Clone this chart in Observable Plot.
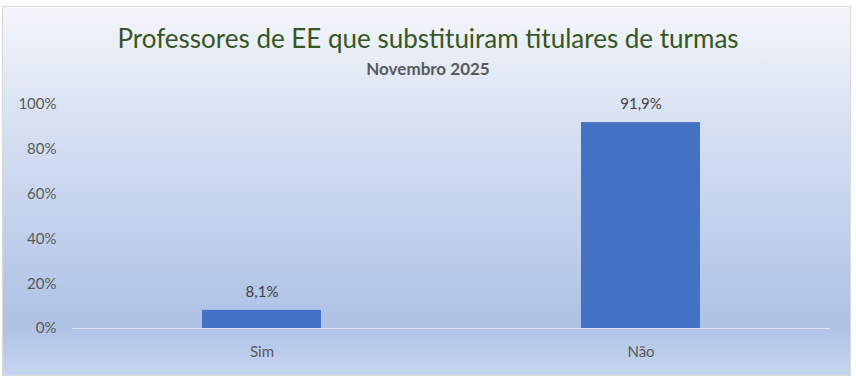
<!DOCTYPE html>
<html>
<head>
<meta charset="utf-8">
<script src="https://cdn.jsdelivr.net/npm/d3@7"></script>
<script src="https://cdn.jsdelivr.net/npm/@observablehq/plot@0.6"></script>
<style>
  html, body { margin: 0; padding: 0; background: #ffffff; }
  body { width: 856px; height: 378px; position: relative; overflow: hidden; font-family: Lato, "Open Sans", sans-serif; }
  #panel {
    position: absolute; left: 2px; top: 6px; width: 847px; height: 368px;
    border: 1px solid #d9d9d9;
    background: linear-gradient(to bottom, #f4f6fb 0%, #dce4f4 26%, #aec2e6 86%, #c6d4ef 100%);
  }
  #title {
    position: absolute; left: 0; top: 22px; width: 856px; text-align: center;
    font-size: 26px; color: #375623; font-weight: 400; line-height: 32px;
  }
  #subtitle {
    position: absolute; left: 0; top: 58px; width: 856px; text-align: center;
    font-size: 17px; color: #595959; font-weight: 700; line-height: 22px;
  }
  #chart { position: absolute; left: 0; top: 90px; }
</style>
</head>
<body>
<div id="panel"></div>
<div id="title">Professores de EE que substituiram titulares de turmas</div>
<div id="subtitle">Novembro 2025</div>
<div id="chart"></div>
<script>
const categories = ["Sim", "Não"];
const values = [0.081, 0.919];
const yTicks = [0, 0.2, 0.4, 0.6, 0.8, 1.0];

const data = categories.map((c, i) => ({ category: c, value: values[i] }));
const ptLocale = d3.formatLocale({ decimal: ",", thousands: ".", grouping: [3], currency: ["R$", ""] });
const labelFmt = ptLocale.format(".1%");
const tickFmt = ptLocale.format(".0%");

const chart = Plot.plot({
  width: 856,
  height: 288,
  marginLeft: 72,
  marginRight: 26,
  marginTop: 14,
  marginBottom: 50,
  style: { background: "transparent", fontFamily: "Lato, 'Open Sans', sans-serif", fontSize: "15px", color: "#595959" },
  x: { domain: categories, paddingInner: 0.686, paddingOuter: 0.343, label: null },
  y: { domain: [0, 1], ticks: yTicks, label: null, tickFormat: tickFmt },
  marks: [
    Plot.axisY({ ticks: yTicks, tickFormat: tickFmt, tickSize: 0, tickPadding: 16, fontSize: 15, fill: "#595959", label: null }),
    Plot.axisX({ tickSize: 0, tickPadding: 18, fontSize: 15, fill: "#595959", label: null }),
    Plot.barY(data, { x: "category", y: "value", fill: "#4472c4" }),
    Plot.ruleY([0], { stroke: "#dfe6f3", strokeWidth: 1 }),
    Plot.text(data, { x: "category", y: "value", text: d => labelFmt(d.value), dy: -18, fill: "#404040", fontSize: 15 })
  ]
});
document.getElementById("chart").appendChild(chart);
</script>
</body>
</html>
